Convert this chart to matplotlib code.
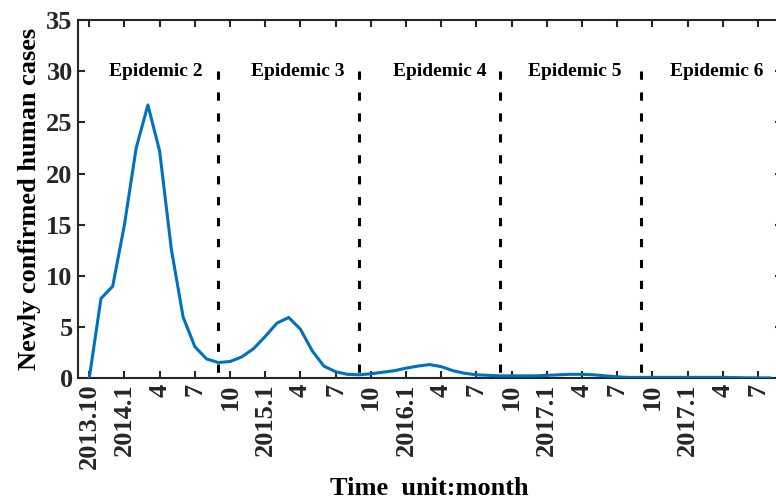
import matplotlib
matplotlib.use("Agg")
import matplotlib.pyplot as plt
import numpy as np

plt.rcParams['font.family'] = ['Liberation Serif', 'DejaVu Serif']
plt.rcParams['font.weight'] = 'bold'

# monthly new confirmed human cases, starting 2013.10
cases = [0.0, 7.8, 9.0, 15.0, 22.5, 26.7, 22.2, 12.6, 6.0, 3.1,
         1.9, 1.55, 1.65, 2.1, 2.9, 4.1, 5.4, 5.95, 4.8, 2.7,
         1.2, 0.65, 0.4, 0.35, 0.45, 0.6, 0.75, 1.0, 1.2, 1.35,
         1.15, 0.75, 0.5, 0.35, 0.3, 0.25, 0.25, 0.25, 0.25, 0.3,
         0.35, 0.4, 0.4, 0.35, 0.25, 0.15, 0.1, 0.1, 0.1, 0.1,
         0.1, 0.1, 0.1, 0.1, 0.1, 0.08, 0.06, 0.05, 0.05]

tick_labels = ["2013.10", "2014.1", "4", "7", "10", "2015.1", "4", "7",
               "10", "2016.1", "4", "7", "10", "2017.1", "4", "7",
               "10", "2017.1", "4", "7"]

# epidemic boundaries (month index) and label centres
boundaries = [11, 23, 35, 47]
epi_names = ["Epidemic 2", "Epidemic 3", "Epidemic 4", "Epidemic 5", "Epidemic 6"]
epi_x = [5.69, 17.79, 29.9, 41.36, 53.46]

months = np.arange(len(cases))

fig = plt.figure(figsize=(7.76, 5.04), dpi=100)
ax = fig.add_axes([77.5 / 776, 1 - 378.4 / 504, (781.5 - 77.5) / 776, (378.4 - 20) / 504])

ax.plot(months, cases, color="#0072BD", lw=2.2, zorder=3)

for b in boundaries:
    ax.plot([b, b], [30, 0], color="k", lw=2.2, ls=(0, (2.7, 4.15)), zorder=2)

for name, xx in zip(epi_names, epi_x):
    ax.text(xx, 30, name, fontsize=14, fontweight="bold", ha="center", va="center")

ax.set_xlim(-1, 59)
ax.set_ylim(0, 35)
ax.set_xticks(np.arange(0, 3 * len(tick_labels), 3))
ax.set_xticklabels(tick_labels, rotation=90, fontsize=19, fontweight="bold")
ax.set_yticks(np.arange(0, 36, 5))
ax.tick_params(axis="y", labelsize=19)
ax.tick_params(direction="in", length=5, width=1.5, top=True, right=True, colors="#262626")
for lab in ax.get_yticklabels():
    lab.set_fontweight("bold")
for sp in ax.spines.values():
    sp.set_linewidth(1.5)
    sp.set_color("#262626")

ax.set_ylabel("Newly confirmed human cases", fontsize=19, fontweight="bold", labelpad=4)
ax.set_xlabel("Time  unit:month", fontsize=19, fontweight="bold", labelpad=6)

fig.savefig("out.png", dpi=100)
